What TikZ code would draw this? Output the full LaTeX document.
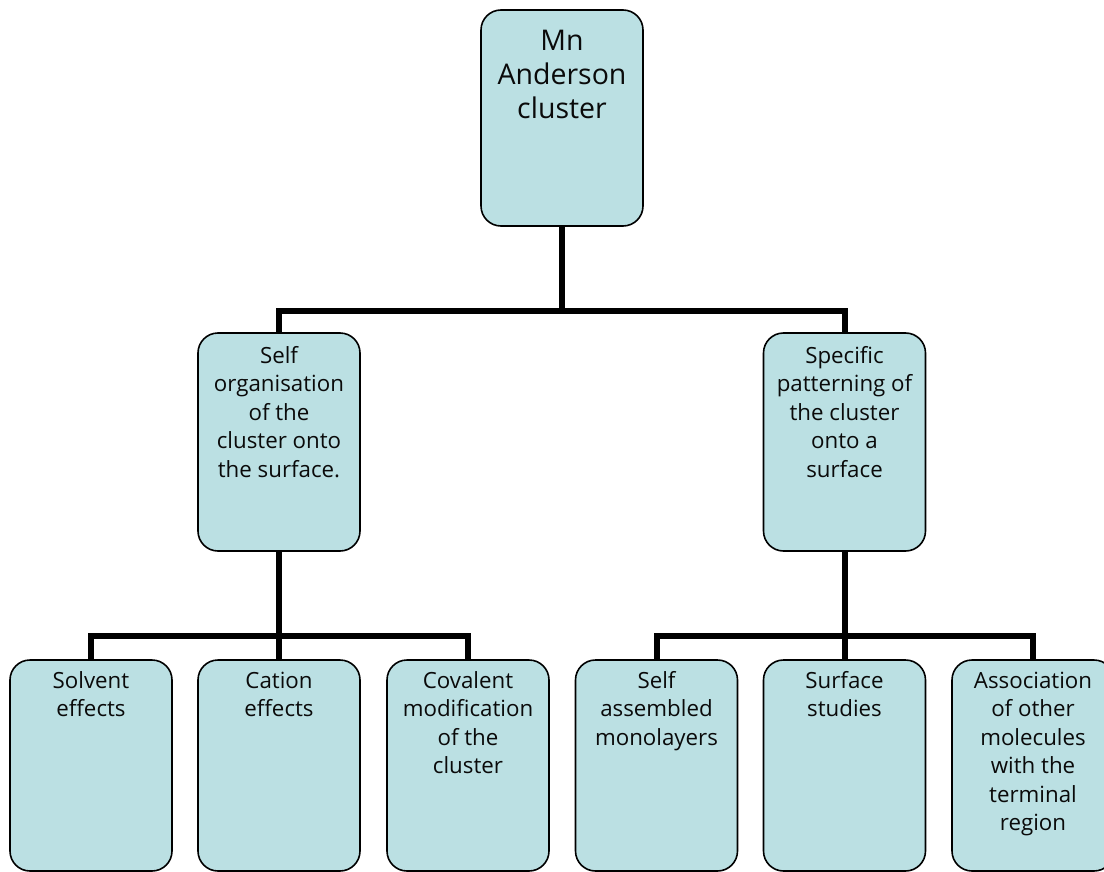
\documentclass[tikz,border=0pt]{standalone}
\usepackage{fontspec}
\setmainfont{Open Sans}
\usetikzlibrary{backgrounds}
\definecolor{boxfill}{RGB}{187,224,227}
\definecolor{inkc}{RGB}{10,10,10}
\begin{document}
\begin{tikzpicture}[x=1bp,y=-1bp,
  box/.style={draw=black, line width=1.6bp, fill=boxfill, rounded corners=20bp,
    minimum width=162bp, inner sep=0pt, outer sep=0pt},
  topbox/.style={box, minimum height=216bp},
  midbox/.style={box, minimum height=218bp},
  lowbox/.style={box, minimum height=211bp},
  bigtxt/.style={anchor=north, inner sep=0pt, align=center, text=inkc,
    font=\fontsize{28.5bp}{34bp}\selectfont},
  smalltxt/.style={anchor=north, inner sep=0pt, align=center, text=inkc,
    font=\fontsize{22.3bp}{28.5bp}\selectfont},
  conn/.style={draw=black, line width=6bp}
]
\clip (0,0) rectangle (1104,872);

% boxes
\node[topbox] (b0) at (562,118) {};
\node[midbox] (bl) at (279,442) {};
\node[midbox] (br) at (844.5,442) {};
\node[lowbox] (c1) at (91,765.5) {};
\node[lowbox] (c2) at (279,765.5) {};
\node[lowbox] (c3) at (468,765.5) {};
\node[lowbox] (c4) at (656.5,765.5) {};
\node[lowbox] (c5) at (844.5,765.5) {};
\node[lowbox] (c6) at (1033,765.5) {};

% texts
\node[bigtxt] (t0) at ([yshift=-16bp]b0.north) {\rule{0pt}{24bp}Mn\\Anderson\\cluster};
\node[smalltxt] (tl) at ([yshift=-12bp]bl.north) {\rule{0pt}{18bp}Self\\organisation\\of the\\cluster onto\\the surface.};
\node[smalltxt] (tr) at ([yshift=-12bp]br.north) {\rule{0pt}{18bp}Specific\\patterning of\\the cluster\\onto a\\surface};
\node[smalltxt] (s1) at ([yshift=-10bp]c1.north) {\rule{0pt}{18bp}Solvent\\effects};
\node[smalltxt] (s2) at ([yshift=-10bp]c2.north) {\rule{0pt}{18bp}Cation\\effects};
\node[smalltxt] (s3) at ([yshift=-10bp]c3.north) {\rule{0pt}{18bp}Covalent\\modification\\of the\\cluster};
\node[smalltxt] (s4) at ([yshift=-10bp]c4.north) {\rule{0pt}{18bp}Self\\assembled\\monolayers};
\node[smalltxt] (s5) at ([yshift=-10bp]c5.north) {\rule{0pt}{18bp}Surface\\studies};
\node[smalltxt] (s6) at ([yshift=-10bp]c6.north) {\rule{0pt}{18bp}Association\\of other\\molecules\\with the\\terminal\\region};

% connectors
\coordinate (j0) at (562,311);
\coordinate (j1) at (279,636);
\coordinate (j2) at (844.5,636);
\begin{scope}[on background layer]
\draw[conn] (b0.south) -- (j0);
\draw[conn] (j0) -| (bl.north);
\draw[conn] (j0) -| (br.north);
\draw[conn] (bl.south) -- (j1);
\draw[conn] (j1) -| (c1.north);
\draw[conn] (j1) -- (c2.north);
\draw[conn] (j1) -| (c3.north);
\draw[conn] (br.south) -- (j2);
\draw[conn] (j2) -| (c4.north);
\draw[conn] (j2) -- (c5.north);
\draw[conn] (j2) -| (c6.north);
\end{scope}
\end{tikzpicture}
\end{document}
